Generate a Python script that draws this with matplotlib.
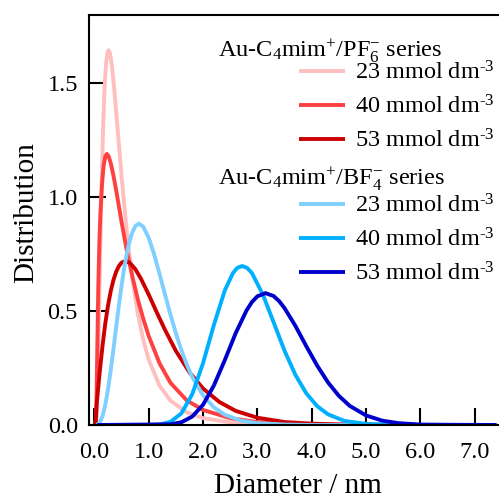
import matplotlib
matplotlib.use('Agg')
import matplotlib.pyplot as plt
from matplotlib.ticker import FormatStrFormatter

plt.rcParams['font.family'] = ['Liberation Serif', 'DejaVu Serif']
plt.rcParams['mathtext.fontset'] = 'custom'
plt.rcParams['mathtext.rm'] = 'Liberation Serif'
plt.rcParams['mathtext.it'] = 'Liberation Serif:italic'
plt.rcParams['mathtext.bf'] = 'Liberation Serif:bold'

# ---- data ----
pf6_23_x = [0.02, 0.05, 0.08, 0.10, 0.13, 0.16, 0.18, 0.20, 0.22, 0.24, 0.26, 0.28, 0.30, 0.32, 0.34,
            0.37, 0.43, 0.50, 0.60, 0.70, 0.80, 0.90, 1.00, 1.20, 1.40, 1.70, 2.00, 2.50, 3.00,
            4.00, 5.00, 7.40]
pf6_23_y = [0.003, 0.119, 0.431, 0.681, 1.035, 1.311, 1.444, 1.540, 1.601, 1.635, 1.645, 1.636, 1.613,
            1.578, 1.534, 1.459, 1.288, 1.089, 0.838, 0.638, 0.486, 0.372, 0.286, 0.172, 0.107,
            0.055, 0.030, 0.012, 0.005, 0.001, 0.0, 0.0]

pf6_40_x = [0.03, 0.05, 0.07, 0.09, 0.11, 0.14, 0.17, 0.20, 0.23, 0.26, 0.30, 0.35, 0.40, 0.50,
            0.60, 0.70, 0.80, 0.90, 1.00, 1.20, 1.40, 1.70, 2.00, 2.50, 3.00, 3.50, 4.00, 5.00,
            6.00, 7.40]
pf6_40_y = [0.0, 0.30, 0.60, 0.80, 0.93, 1.06, 1.14, 1.18, 1.19, 1.18, 1.15, 1.095, 1.03, 0.89,
            0.76, 0.65, 0.55, 0.465, 0.39, 0.27, 0.185, 0.108, 0.066, 0.030, 0.013, 0.006,
            0.003, 0.001, 0.0, 0.0]

pf6_53_x = [0.02, 0.04, 0.06, 0.10, 0.15, 0.20, 0.25, 0.30, 0.35, 0.40, 0.45, 0.50, 0.57, 0.65,
            0.75, 0.85, 1.00, 1.15, 1.30, 1.50, 1.75, 2.00, 2.30, 2.60, 3.00, 3.50, 4.00, 4.50,
            5.00, 6.00, 7.40]
pf6_53_y = [0.0, 0.090, 0.141, 0.240, 0.351, 0.447, 0.525, 0.588, 0.637, 0.673, 0.698, 0.713,
            0.720, 0.712, 0.685, 0.645, 0.572, 0.493, 0.417, 0.325, 0.231, 0.160, 0.101, 0.062,
            0.032, 0.013, 0.006, 0.002, 0.001, 0.0, 0.0]

bf4_23_x = [0.05, 0.10, 0.15, 0.20, 0.25, 0.30, 0.35, 0.40, 0.45, 0.50, 0.55, 0.60, 0.65, 0.70,
            0.76, 0.82, 0.90, 1.00, 1.10, 1.20, 1.30, 1.40, 1.50, 1.60, 1.70, 1.80, 2.00, 2.20,
            2.40, 2.70, 3.00, 3.50, 4.00, 5.00, 7.40]
bf4_23_y = [0.001, 0.012, 0.040, 0.089, 0.158, 0.241, 0.334, 0.431, 0.525, 0.613, 0.692, 0.758,
            0.810, 0.848, 0.875, 0.884, 0.870, 0.821, 0.748, 0.662, 0.572, 0.484, 0.402, 0.329,
            0.265, 0.211, 0.130, 0.077, 0.045, 0.019, 0.008, 0.002, 0.0, 0.0, 0.0]

bf4_40_x = [0.05, 1.00, 1.20, 1.40, 1.60, 1.80, 2.00, 2.20, 2.40, 2.55, 2.63, 2.72, 2.81, 2.90,
            3.10, 3.30, 3.50, 3.70, 3.90, 4.10, 4.30, 4.60, 5.00, 5.50, 6.00, 7.40]
bf4_40_y = [0.0, 0.0, 0.002, 0.014, 0.051, 0.135, 0.272, 0.440, 0.591, 0.667, 0.690, 0.698,
            0.690, 0.667, 0.573, 0.450, 0.326, 0.220, 0.139, 0.083, 0.047, 0.018, 0.005, 0.001,
            0.0, 0.0]

bf4_53_x = [0.05, 1.40, 1.60, 1.80, 2.00, 2.20, 2.40, 2.60, 2.80, 2.90, 3.00, 3.15, 3.30, 3.40,
            3.50, 3.70, 3.90, 4.10, 4.30, 4.50, 4.70, 5.00, 5.30, 5.60, 6.00, 6.50, 7.40]
bf4_53_y = [0.0, 0.003, 0.012, 0.037, 0.089, 0.174, 0.285, 0.403, 0.503, 0.540, 0.565, 0.579,
            0.566, 0.544, 0.513, 0.435, 0.346, 0.261, 0.187, 0.128, 0.084, 0.042, 0.019, 0.008,
            0.002, 0.001, 0.0]

conc_labels = [r'23 mmol dm$^{\text{-3}}$', r'40 mmol dm$^{\text{-3}}$', r'53 mmol dm$^{\text{-3}}$']
pf6_title = r'Au-C$_4$mim$^{+}$/PF$_6^{-}$ series'
bf4_title = r'Au-C$_4$mim$^{+}$/BF$_4^{-}$ series'
x_ticks = [0, 1, 2, 3, 4, 5, 6, 7]
y_ticks = [0.0, 0.5, 1.0, 1.5]

pf6_colors = ['#FFBFBF', '#FF4040', '#CC0000']
bf4_colors = ['#80D0FF', '#00B0FF', '#0000CC']

fig = plt.figure(figsize=(4.99, 5.0), dpi=100)
ax = fig.add_axes([0.1784, 0.15, 0.8196, 0.82])

lw = 2.8
pf6_lines = []
for xs, ys, c in zip([pf6_23_x, pf6_40_x, pf6_53_x], [pf6_23_y, pf6_40_y, pf6_53_y], pf6_colors):
    l, = ax.plot(xs, ys, color=c, lw=lw, solid_capstyle='butt', solid_joinstyle='round')
    pf6_lines.append(l)
bf4_lines = []
for xs, ys, c in zip([bf4_23_x, bf4_40_x, bf4_53_x], [bf4_23_y, bf4_40_y, bf4_53_y], bf4_colors):
    l, = ax.plot(xs, ys, color=c, lw=lw, solid_capstyle='butt', solid_joinstyle='round')
    bf4_lines.append(l)

ax.set_xlim(-0.1, 7.43)
ax.set_ylim(0, 1.8)
ax.set_xticks(x_ticks)
ax.set_yticks(y_ticks)
ax.xaxis.set_major_formatter(FormatStrFormatter('%.1f'))
ax.yaxis.set_major_formatter(FormatStrFormatter('%.1f'))
ax.tick_params(axis='both', direction='in', length=12, width=1.5, labelsize=17.5, color='black')
ax.tick_params(axis='x', pad=12)
ax.tick_params(axis='y', pad=8)
ax.spines['right'].set_visible(False)
for s in ['left', 'bottom', 'top']:
    ax.spines[s].set_linewidth(1.5)

ax.set_xlabel('Diameter / nm', fontsize=21)
ax.set_ylabel('Distribution', fontsize=21)
ax.xaxis.set_label_coords(0.51, -0.118)
ax.yaxis.set_label_coords(-0.122, 0.518)

leg_kw = dict(loc='upper left', frameon=False, fontsize=17.5, handlelength=1.9,
              handletextpad=0.4, labelspacing=0.45, borderpad=0, borderaxespad=0)
leg1 = ax.legend(pf6_lines, conc_labels, bbox_to_anchor=(0.5134, 0.888), **leg_kw)
ax.add_artist(leg1)
leg2 = ax.legend(bf4_lines, conc_labels, bbox_to_anchor=(0.5134, 0.5634), **leg_kw)

ax.text(0.3154, 0.8976, pf6_title, transform=ax.transAxes, fontsize=17.5, ha='left', va='baseline')
ax.text(0.3154, 0.5878, bf4_title, transform=ax.transAxes, fontsize=17.5, ha='left', va='baseline')

fig.savefig('out.png', dpi=100)
